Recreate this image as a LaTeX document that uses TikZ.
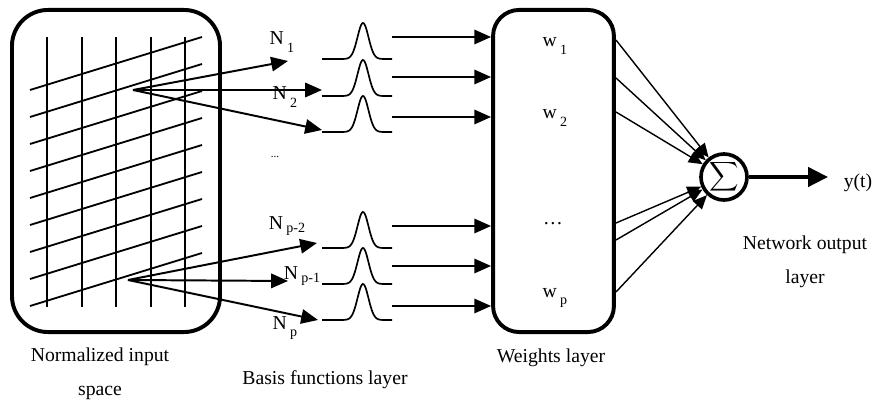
\documentclass[tikz,border=0pt]{standalone}
\usepackage{fontspec}
\setmainfont{Liberation Serif}
\usetikzlibrary{arrows.meta,calc}
\tikzset{
  layerbox/.style={draw, line width=2.8pt, inner sep=0pt, minimum height=8.05cm},
  feedarrow/.style={-{Triangle[length=4.2mm, width=3.6mm]}, line width=1.4pt},
  sumarrow/.style={-{Triangle[length=3.5mm, width=3mm]}, line width=1pt},
  outarrow/.style={-{Triangle[length=5mm, width=4.8mm]}, line width=2.8pt},
  gridline/.style={line width=1.3pt},
  bumpline/.style={line width=1.2pt},
  sumnode/.style={draw, circle, line width=2.6pt, minimum size=1.15cm, inner sep=0pt},
  lab/.style={font=\fontsize{14}{16}\selectfont, inner sep=0pt}
}
\newcommand{\lowsub}[3][-0.8ex]{#2\,\raisebox{#1}{\fontsize{10}{11}\selectfont #3}}

\begin{document}
\begin{tikzpicture}[x=0.025cm, y=-0.025cm, >=Latex]
  \useasboundingbox (0,0) rectangle (890,405);
  \node[layerbox, rounded corners=0.9cm, minimum width=5.2cm] (inbox) at (116,171) {};
  \node[layerbox, rounded corners=0.65cm, minimum width=3.02cm] (wbox) at (553.5,171) {};
  \node[sumnode] (sum) at (724,177) {\scalebox{1.45}{$\displaystyle\sum$}};

  \foreach \gx in {47,82,116,151,185}
    \draw[gridline] (\gx,37) -- (\gx,307);
  \foreach \i in {0,...,8}
    \draw[gridline] (30,{90+27*\i}) -- (202,{37+27*\i});

  \coordinate (srcA) at (133,90);
  \coordinate (srcB) at (128,280);
  \coordinate (tipA1) at (288,61);
  \coordinate (tipA2) at (322,90);
  \coordinate (tipA3) at (322,130);
  \coordinate (tipB1) at (317,243);
  \coordinate (tipB2) at (288,281);
  \coordinate (tipB3) at (318,320);
  \foreach \t in {A1,A2,A3}
    \draw[feedarrow] (srcA) -- (tip\t);
  \foreach \t in {B1,B2,B3}
    \draw[feedarrow] (srcB) -- (tip\t);

  \foreach \by in {59,96,132,248,284,320}
    \draw[bumpline] plot[domain=0:70, samples=80] ({322+\x},{\by-36*exp(-((\x-41)^2)/60)});

  \foreach \ay [count=\k] in {37,77,117,226,266,306} {
    \coordinate (fb\k) at (392,\ay);
    \draw[feedarrow] (fb\k) -- (fb\k -| wbox.west);
  }
  \foreach \sy [count=\k] in {40,78,112,223,240,292} {
    \coordinate (ws\k) at (616,\sy);
    \draw[sumarrow] (ws\k) -- (sum);
  }
  \coordinate (yout) at (828,177);
  \draw[outarrow] (sum) -- (yout);

  \node[lab] (n1) at (282,42) {\lowsub{N}{1}};
  \node[lab] (n2) at (285,97) {\lowsub{N}{2}};
  \node[lab] (ndots) at (275,157) {\fontsize{8}{8}\selectfont ...};
  \node[lab] (np2) at (287,226) {\lowsub[-0.3ex]{N}{p-2}};
  \node[lab] (np1) at (302,276) {\lowsub[-0.3ex]{N}{p-1}};
  \node[lab] (np) at (285,328) {\lowsub{N}{p}};

  \node[lab] (w1) at (555,46) {\lowsub{w}{1}};
  \node[lab] (w2) at (555,118) {\lowsub{w}{2}};
  \node[lab] (wdots) at (553,224) {\ldots};
  \node[lab] (wp) at (555,298) {\lowsub{w}{p}};

  \node[lab] (yt) at (858,183) {y(t)};
  \node[lab, align=center] (inlab) at (100,374) {Normalized input\\[8pt]space};
  \node[lab] (bflab) at (325,380) {Basis functions layer};
  \node[lab] (wlab) at (551,358) {Weights layer};
  \node[lab, align=center] (outlab) at (805,262) {Network output\\[8pt]layer};
\end{tikzpicture}
\end{document}
